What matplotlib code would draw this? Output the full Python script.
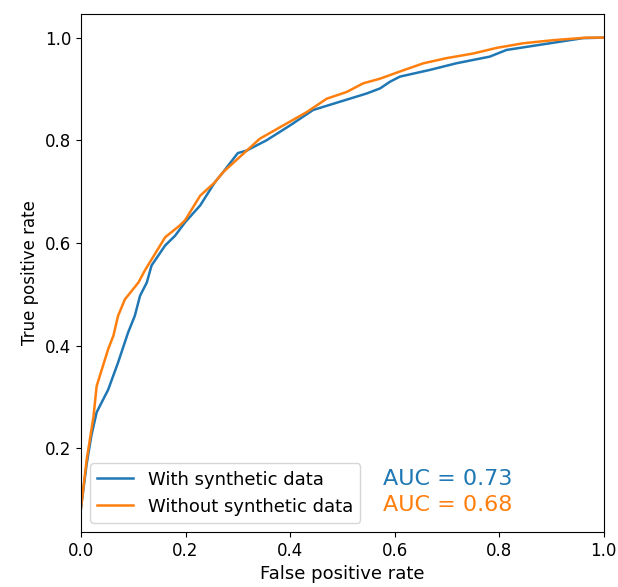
import numpy as np
import matplotlib
matplotlib.use('Agg')
import matplotlib.pyplot as plt

# ROC points (false positive rate, true positive rate)
fpr_with = [0.0, 0.011, 0.020, 0.030, 0.049, 0.052, 0.071, 0.090, 0.103, 0.113,
            0.126, 0.135, 0.161, 0.180, 0.199, 0.228, 0.256, 0.272, 0.300, 0.317,
            0.355, 0.400, 0.444, 0.495, 0.546, 0.572, 0.591, 0.610, 0.667, 0.718,
            0.782, 0.814, 0.865, 0.916, 0.960, 1.0]
tpr_with = [0.083, 0.170, 0.225, 0.270, 0.308, 0.314, 0.367, 0.425, 0.458, 0.497,
            0.523, 0.556, 0.595, 0.614, 0.640, 0.673, 0.718, 0.738, 0.775, 0.780,
            0.800, 0.829, 0.859, 0.875, 0.891, 0.901, 0.914, 0.924, 0.937, 0.950,
            0.963, 0.976, 0.984, 0.992, 0.999, 1.0]

fpr_without = [0.0, 0.011, 0.024, 0.030, 0.052, 0.062, 0.071, 0.084, 0.110, 0.122,
               0.161, 0.189, 0.199, 0.228, 0.256, 0.272, 0.342, 0.387, 0.432, 0.470,
               0.508, 0.540, 0.572, 0.610, 0.655, 0.699, 0.750, 0.795, 0.846, 0.903,
               0.967, 1.0]
tpr_without = [0.083, 0.178, 0.262, 0.321, 0.393, 0.419, 0.458, 0.490, 0.523, 0.546,
               0.611, 0.634, 0.644, 0.692, 0.718, 0.738, 0.803, 0.829, 0.855, 0.881,
               0.894, 0.911, 0.920, 0.934, 0.950, 0.960, 0.969, 0.980, 0.989, 0.995,
               1.0, 1.0]

auc_with = 0.73
auc_without = 0.68

fig = plt.figure(figsize=(6.18, 5.87), dpi=100)
ax = fig.add_axes([0.131, 0.094, 0.846, 0.882])

ax.plot(fpr_with, tpr_with, color='tab:blue', lw=1.8, label='With synthetic data')
ax.plot(fpr_without, tpr_without, color='tab:orange', lw=1.8, label='Without synthetic data')

ax.set_xlim(0, 1)
ax.set_xlabel('False positive rate', fontsize=13)
ax.set_ylabel('True positive rate', fontsize=12)
ax.tick_params(labelsize=12)
ax.legend(loc='lower left', fontsize=13)

ax.text(0.577, 0.140, f'AUC = {auc_with:.2f}', color='tab:blue', fontsize=16,
        va='center', ha='left')
ax.text(0.577, 0.089, f'AUC = {auc_without:.2f}', color='tab:orange', fontsize=16,
        va='center', ha='left')

fig.savefig('out.png')
